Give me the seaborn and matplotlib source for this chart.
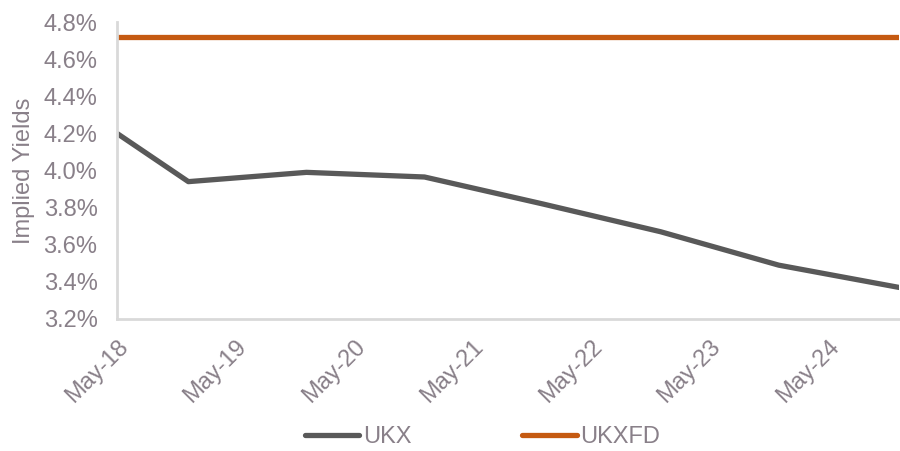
import matplotlib
matplotlib.use("Agg")
import matplotlib.pyplot as plt
import seaborn as sns
import pandas as pd
from matplotlib.lines import Line2D

dates = ["2018-05-15", "2018-12-21", "2019-12-20", "2020-12-18",
         "2021-12-17", "2022-12-16", "2023-12-15", "2024-12-20"]
ukx = [4.20, 3.94, 3.99, 3.965, 3.82, 3.67, 3.49, 3.37]
ukxfd = [4.72, 4.72, 4.72, 4.72, 4.72, 4.72, 4.72, 4.72]
tick_dates = ["2018-05-15", "2019-05-15", "2020-05-15", "2021-05-15",
              "2022-05-15", "2023-05-15", "2024-05-15"]
tick_labels = ["May-18", "May-19", "May-20", "May-21", "May-22", "May-23", "May-24"]
y_ticks = [3.2, 3.4, 3.6, 3.8, 4.0, 4.2, 4.4, 4.6, 4.8]

df = pd.DataFrame({"Date": pd.to_datetime(dates), "UKX": ukx, "UKXFD": ukxfd})
long = df.melt(id_vars="Date", var_name="Series", value_name="Yield")

sns.set_theme(style="white")
plt.rcParams["font.family"] = ["Liberation Sans", "DejaVu Sans"]
text_color = "#898089"
fs = 17

fig = plt.figure(figsize=(9, 4.51), dpi=100)
ax = fig.add_axes([0.13, 0.2927, 0.869, 0.6585])
sns.lineplot(data=long, x="Date", y="Yield", hue="Series",
             palette={"UKX": "#595959", "UKXFD": "#C55A11"},
             linewidth=3.8, ax=ax, legend=False)
for line in ax.lines:
    line.set_solid_capstyle("round")
    line.set_solid_joinstyle("round")

ax.set_xlim(pd.Timestamp(dates[0]), pd.Timestamp(dates[-1]))
ax.set_ylim(3.2, 4.8)
ax.set_yticks(y_ticks)
ax.set_yticklabels([f"{v:.1f}%" for v in y_ticks])
ax.set_xticks(pd.to_datetime(tick_dates))
ax.set_xticklabels(tick_labels, rotation=45, ha="right", rotation_mode="anchor")
ax.set_xlabel("")
ax.set_ylabel("Implied Yields", color=text_color, fontsize=fs, labelpad=6)
ax.tick_params(axis="y", colors=text_color, labelsize=fs, length=0, pad=14)
ax.tick_params(axis="x", colors=text_color, labelsize=fs, length=0, pad=12)
for s in ["top", "right"]:
    ax.spines[s].set_visible(False)
for s in ["left", "bottom"]:
    ax.spines[s].set_color("#D9D9D9")
    ax.spines[s].set_linewidth(2)
ax.grid(False)

handles = [Line2D([0], [0], color="#595959", lw=3.8, solid_capstyle="round"),
           Line2D([0], [0], color="#C55A11", lw=3.8, solid_capstyle="round")]
leg = fig.legend(handles, ["UKX", "UKXFD"], loc="center", ncol=2,
                 bbox_to_anchor=(0.536, 0.031), frameon=False, fontsize=fs,
                 handlelength=2.3, handletextpad=0.15, columnspacing=4.7,
                 borderpad=0, borderaxespad=0)
for t in leg.get_texts():
    t.set_color(text_color)

fig.savefig("out.png", dpi=100)
